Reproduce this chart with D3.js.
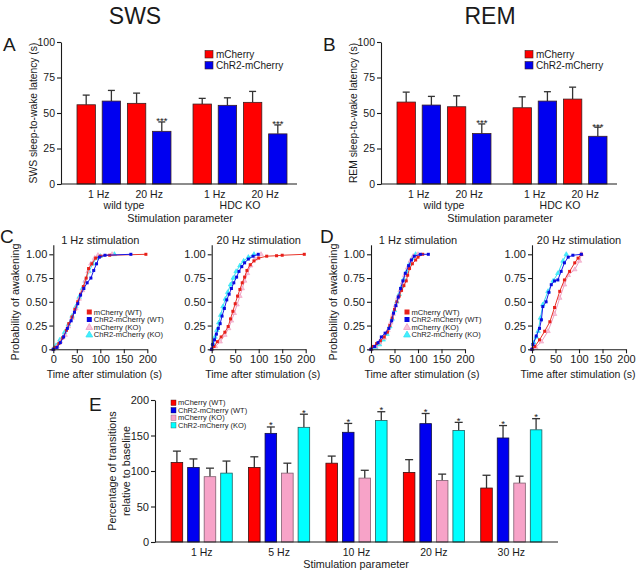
<!DOCTYPE html>
<html>
<head>
<meta charset="utf-8">
<script src="https://cdn.jsdelivr.net/npm/d3@7"></script>
<style>
body { margin: 0; background: #fff; }
svg text { font-family: "Liberation Sans", Arial, sans-serif; fill: #1a1a1a; }
</style>
</head>
<body>
<svg id="fig" width="640" height="570"></svg>
<script>
// ---- data : panels A / B (latency, s) ----
var latGroups = ["wild type", "HDC KO"];
var latFreqs = ["1 Hz", "20 Hz"];
// order: WT 1Hz, WT 20Hz, KO 1Hz, KO 20Hz
var swsCherry = [55.8, 56.8, 56.3, 57.5];
var swsCherrySem = [6.8, 7.2, 4.0, 7.7];
var swsChR2 = [58.4, 37.1, 55.4, 35.3];
var swsChR2Sem = [7.5, 6.6, 5.3, 6.3];
var swsStars = [false, true, false, true];
var remCherry = [57.7, 54.4, 53.7, 59.8];
var remCherrySem = [7.0, 7.7, 7.7, 8.4];
var remChR2 = [55.6, 35.5, 58.4, 33.6];
var remChR2Sem = [6.1, 6.8, 6.6, 6.4];
var latTicks = [0, 25, 50, 75, 100];

// ---- data : panels C / D (cumulative probability of awakening) ----
// [time after stimulation (s), probability]
var c1Red = [[0,0],[5,0.02],[12,0.06],[20,0.12],[28,0.2],[33,0.27],[40,0.34],[46,0.42],[52,0.5],[58,0.58],[64,0.66],[70,0.75],[75,0.85],[82,0.9],[90,0.96],[100,0.98],[120,0.99],[197,1]];
var c1Blue = [[0,0],[8,0.02],[15,0.07],[22,0.13],[30,0.22],[38,0.3],[45,0.39],[52,0.48],[58,0.57],[65,0.64],[72,0.7],[80,0.75],[86,0.83],[92,0.9],[98,0.97],[110,0.99],[165,1]];
var c1Pink = [[0,0],[8,0.03],[15,0.08],[25,0.15],[32,0.24],[40,0.33],[48,0.43],[55,0.53],[62,0.62],[68,0.72],[74,0.82],[80,0.9],[88,0.96],[95,0.99],[125,1]];
var c1Cyan = [[0,0],[6,0.04],[14,0.1],[24,0.18],[32,0.26],[40,0.35],[48,0.45],[55,0.55],[62,0.64],[68,0.72],[76,0.82],[84,0.9],[92,0.96],[100,0.98],[130,1]];

var c20Red = [[0,0],[5,0.03],[12,0.08],[20,0.13],[28,0.18],[35,0.24],[40,0.32],[45,0.4],[50,0.48],[55,0.56],[60,0.63],[65,0.7],[70,0.76],[75,0.83],[82,0.89],[90,0.93],[100,0.96],[117,0.98],[138,0.985],[150,0.99],[197,1]];
var c20Blue = [[0,0],[2,0.05],[6,0.1],[10,0.16],[14,0.22],[18,0.27],[22,0.35],[27,0.43],[32,0.52],[37,0.58],[42,0.64],[47,0.7],[53,0.76],[58,0.82],[64,0.87],[70,0.91],[78,0.95],[88,0.98],[99,1]];
var c20Pink = [[0,0],[8,0.03],[18,0.08],[28,0.15],[36,0.22],[42,0.3],[48,0.38],[54,0.47],[60,0.56],[65,0.64],[70,0.72],[76,0.8],[83,0.88],[92,0.95],[105,1]];
var c20Cyan = [[0,0],[3,0.06],[7,0.13],[11,0.2],[15,0.28],[19,0.36],[24,0.45],[29,0.53],[34,0.6],[40,0.68],[46,0.75],[52,0.82],[60,0.88],[68,0.93],[78,0.97],[90,1]];

var d1Red = [[0,0],[5,0.03],[12,0.06],[20,0.09],[28,0.13],[35,0.18],[40,0.25],[45,0.33],[50,0.42],[55,0.5],[60,0.56],[65,0.62],[70,0.67],[75,0.72],[78,0.78],[82,0.85],[88,0.9],[95,0.94],[100,0.97],[110,1]];
var d1Blue = [[0,0],[8,0.03],[15,0.07],[22,0.13],[30,0.17],[38,0.22],[44,0.3],[48,0.38],[53,0.46],[58,0.55],[63,0.64],[68,0.72],[73,0.8],[80,0.88],[86,0.94],[92,0.98],[105,1],[122,1]];
var d1Pink = [[0,0],[10,0.03],[18,0.07],[28,0.12],[36,0.2],[42,0.28],[47,0.37],[52,0.46],[57,0.54],[62,0.62],[67,0.7],[72,0.78],[78,0.86],[84,0.93],[90,0.98],[100,1]];
var d1Cyan = [[0,0],[10,0.02],[18,0.05],[26,0.1],[34,0.16],[40,0.24],[45,0.32],[50,0.41],[55,0.5],[60,0.58],[65,0.66],[70,0.74],[76,0.82],[82,0.9],[88,0.96],[95,1]];

var d20Red = [[0,0],[6,0.03],[16,0.1],[27,0.19],[38,0.29],[48,0.44],[59,0.61],[69,0.73],[80,0.82],[91,0.91],[98,0.96],[105,1]];
var d20Blue = [[0,0],[2,0.05],[9,0.14],[16,0.22],[20,0.31],[23,0.45],[30,0.5],[36,0.6],[41,0.68],[48,0.72],[55,0.73],[62,0.82],[69,0.91],[77,0.97],[87,0.99],[105,1]];
var d20Pink = [[0,0],[8,0.02],[20,0.08],[34,0.19],[48,0.37],[59,0.54],[69,0.68],[77,0.78],[91,0.84],[101,0.93],[105,1]];
var d20Cyan = [[0,0],[4,0.07],[9,0.13],[13,0.19],[18,0.33],[23,0.47],[34,0.61],[45,0.72],[55,0.8],[66,0.93],[73,1]];

var cdfTicksX = [0, 50, 100, 150, 200];
var cdfTicksY = [0, 0.25, 0.5, 0.75, 1];
var seriesNames = ["mCherry (WT)", "ChR2-mCherry (WT)", "mCherry (KO)", "ChR2-mCherry (KO)"];

// ---- data : panel E (% transitions relative to baseline) ----
var eFreqs = ["1 Hz", "5 Hz", "10 Hz", "20 Hz", "30 Hz"];
var eWtCherry = [112, 105, 111, 98, 76];
var eWtCherrySem = [16, 15, 10, 18, 18];
var eWtChR2 = [105, 153, 154.5, 166.7, 146.5];
var eWtChR2Sem = [12, 9, 12.5, 14.3, 17.5];
var eKoCherry = [92, 97, 90, 86.6, 83];
var eKoCherrySem = [12, 14, 11, 9, 9.7];
var eKoChR2 = [97, 161.5, 171, 157, 158];
var eKoChR2Sem = [17, 18.5, 12.5, 11.5, 15.7];
var eTicks = [0, 50, 100, 150, 200];

// ---- colours ----
var RED = "#ff0000", BLUE = "#0000f0", PINK = "#f7a3c8", CYAN = "#00ffff";
var INK = "#1a1a1a";

var svg = d3.select("#fig");

function styleAxis(sel, fs) {
  sel.attr("font-family", null).attr("font-size", fs || 10.5);
  sel.selectAll("path,line").attr("stroke", INK).attr("stroke-width", 1.1);
  sel.selectAll("text").attr("fill", INK);
}

function txt(g, x, y, s, fs, anchor) {
  return g.append("text").attr("x", x).attr("y", y).attr("font-size", fs)
    .attr("text-anchor", anchor || "middle").text(s);
}

// ===== titles =====
txt(svg, 135, 24, "SWS", 23);
txt(svg, 490, 24, "REM", 23);

// ===== A / B =====
function latencyPanel(x0, letter, ylab, cherry, cherrySem, chr2, chr2Sem, stars) {
  var g = svg.append("g").attr("transform", "translate(" + x0 + ",0)");
  txt(g, 3, 51, letter, 19, "start");
  var y = d3.scaleLinear().domain([0, 100]).range([184, 42]);
  var gx = d3.scaleBand().domain(latGroups).range([77, 287]).paddingInner(0.19);
  var keys = ["c1 Hz", "r1 Hz", "c20 Hz", "r20 Hz"];
  var bx = d3.scaleBand().domain(keys).range([0, gx.bandwidth()]).paddingInner(0.27);

  var rows = [];
  latGroups.forEach(function (grp, i) {
    latFreqs.forEach(function (f, j) {
      var k = i * 2 + j;
      rows.push({ grp: grp, key: "c" + f, v: cherry[k], e: cherrySem[k], col: RED, star: false });
      rows.push({ grp: grp, key: "r" + f, v: chr2[k], e: chr2Sem[k], col: BLUE, star: stars[k] });
    });
  });

  var bars = g.selectAll(".bar").data(rows).enter().append("g");
  bars.append("line")
    .attr("x1", function (d) { return gx(d.grp) + bx(d.key) + bx.bandwidth() / 2; })
    .attr("x2", function (d) { return gx(d.grp) + bx(d.key) + bx.bandwidth() / 2; })
    .attr("y1", function (d) { return y(d.v); })
    .attr("y2", function (d) { return y(d.v + d.e); })
    .attr("stroke", "#333").attr("stroke-width", 1.3);
  bars.append("line")
    .attr("x1", function (d) { return gx(d.grp) + bx(d.key) + bx.bandwidth() / 2 - 3.5; })
    .attr("x2", function (d) { return gx(d.grp) + bx(d.key) + bx.bandwidth() / 2 + 3.5; })
    .attr("y1", function (d) { return y(d.v + d.e); })
    .attr("y2", function (d) { return y(d.v + d.e); })
    .attr("stroke", "#333").attr("stroke-width", 1.3);
  bars.append("rect")
    .attr("x", function (d) { return gx(d.grp) + bx(d.key); })
    .attr("y", function (d) { return y(d.v); })
    .attr("width", bx.bandwidth())
    .attr("height", function (d) { return y(0) - y(d.v); })
    .attr("fill", function (d) { return d.col; })
    .attr("stroke", "#3a2020").attr("stroke-width", 0.8);
  bars.filter(function (d) { return d.star; }).append("text")
    .attr("x", function (d) { return gx(d.grp) + bx(d.key) + bx.bandwidth() / 2; })
    .attr("y", function (d) { return y(d.v + d.e) + 2.5; })
    .attr("font-size", 9.5).attr("text-anchor", "middle").text("***");

  g.append("g").attr("transform", "translate(61,0)")
    .call(d3.axisLeft(y).tickValues(latTicks).tickSize(4).tickSizeOuter(0).tickPadding(2))
    .call(styleAxis);
  g.append("line").attr("x1", 61).attr("x2", 297).attr("y1", y(0)).attr("y2", y(0))
    .attr("stroke", INK).attr("stroke-width", 1.1);

  latGroups.forEach(function (grp) {
    latFreqs.forEach(function (f) {
      var cx = gx(grp) + (bx("c" + f) + bx("r" + f) + bx.bandwidth()) / 2;
      txt(g, cx, 198, f, 10.5);
    });
    txt(g, gx(grp) + gx.bandwidth() / 2, 208.5, grp, 10.5);
  });
  txt(g, 180, 221.5, "Stimulation parameter", 10.8);
  txt(g, 0, 0, ylab, 10.3).attr("transform", "translate(37,113) rotate(-90)");

  // legend
  [["mCherry", RED], ["ChR2-mCherry", BLUE]].forEach(function (l, i) {
    g.append("rect").attr("x", 205).attr("y", 50.5 + i * 11).attr("width", 8).attr("height", 7.5)
      .attr("fill", l[1]).attr("stroke", "#3a2020").attr("stroke-width", 0.6);
    txt(g, 216, 57.6 + i * 11, l[0], 10, "start");
  });
}

latencyPanel(0, "A", "SWS sleep-to-wake latency (s)", swsCherry, swsCherrySem, swsChR2, swsChR2Sem, swsStars);
latencyPanel(320, "B", "REM sleep-to-wake latency (s)", remCherry, remCherrySem, remChR2, remChR2Sem, swsStars);

// ===== C / D =====
var seriesStyle = [
  { col: "#e8352b", fill: "#e8201a", shape: "sq" },
  { col: "#1818e8", fill: "#0a0ae0", shape: "sq" },
  { col: "#ee9cc0", fill: "#f8c2d8", shape: "tri" },
  { col: "#38e0f0", fill: "#40f0ff", shape: "tri" }
];

function cdfPanel(x0, title, curves, ylab, legend, xlabX) {
  var g = svg.append("g").attr("transform", "translate(" + x0 + ",0)");
  var x = d3.scaleLinear().domain([0, 200]).range([0, 94]);
  var y = d3.scaleLinear().domain([0, 1.1]).range([349.3, 244.8]);
  var line = d3.line().x(function (d) { return x(d[0]); }).y(function (d) { return y(d[1]); });
  var tri = d3.symbol().type(d3.symbolTriangle).size(9);
  var order = [3, 2, 0, 1];
  order.forEach(function (si) {
    var st = seriesStyle[si];
    g.append("path").datum(curves[si]).attr("d", line).attr("fill", "none")
      .attr("stroke", st.col).attr("stroke-width", 1);
    var pts = g.selectAll(null).data(curves[si]).enter();
    if (st.shape === "sq") {
      pts.append("rect").attr("x", function (d) { return x(d[0]) - 1.5; })
        .attr("y", function (d) { return y(d[1]) - 1.5; })
        .attr("width", 3).attr("height", 3).attr("fill", st.fill);
    } else {
      pts.append("path").attr("d", tri)
        .attr("transform", function (d) { return "translate(" + x(d[0]) + "," + y(d[1]) + ")"; })
        .attr("fill", st.fill).attr("stroke", st.col).attr("stroke-width", 0.6);
    }
  });

  g.append("g").attr("transform", "translate(0,349.3)")
    .call(d3.axisBottom(x).tickValues(cdfTicksX).tickSize(4).tickSizeOuter(0).tickPadding(2))
    .call(styleAxis, 11);
  g.append("g")
    .call(d3.axisLeft(y).tickValues(cdfTicksY).tickSize(4).tickSizeOuter(0).tickPadding(2)
      .tickFormat(function (d) { return d === 0 ? "0" : d3.format(".2f")(d); }))
    .call(styleAxis, 11);

  txt(g, 47, 244, title, 11);
  txt(g, xlabX, 378, "Time after stimulation (s)", 10.5);
  if (ylab) txt(g, 0, 0, ylab, 10.8).attr("transform", "translate(-34,302) rotate(-90)");

  if (legend) {
    seriesNames.forEach(function (n, i) {
      var ly = 312 + i * 7.5;
      if (seriesStyle[i].shape === "sq") {
        g.append("rect").attr("x", 33.5).attr("y", ly - 2.5).attr("width", 5).attr("height", 5)
          .attr("fill", seriesStyle[i].fill);
      } else {
        g.append("path").attr("d", d3.symbol().type(d3.symbolTriangle).size(20))
          .attr("transform", "translate(36," + (ly + 0.5) + ")")
          .attr("fill", seriesStyle[i].fill).attr("stroke", seriesStyle[i].col).attr("stroke-width", 0.8);
      }
      txt(g, 40.5, ly + 2.8, n, 7.6, "start");
    });
  }
}

cdfPanel(53.3, "1 Hz stimulation", [c1Red, c1Blue, c1Pink, c1Cyan], "Probability of awakening", true, 51);
cdfPanel(211.7, "20 Hz stimulation", [c20Red, c20Blue, c20Pink, c20Cyan], null, false, 51);
cdfPanel(371, "1 Hz stimulation", [d1Red, d1Blue, d1Pink, d1Cyan], "Probability of awakening", true, 51);
cdfPanel(532, "20 Hz stimulation", [d20Red, d20Blue, d20Pink, d20Cyan], null, false, 46);
txt(svg, 0, 243, "C", 19, "start");
txt(svg, 320, 243, "D", 19, "start");

// ===== E =====
(function () {
  var g = svg.append("g");
  txt(g, 89, 411, "E", 19, "start");
  var y = d3.scaleLinear().domain([0, 200]).range([542, 400]);
  var gx = d3.scaleBand().domain(eFreqs).range([163, 550]).paddingInner(0.21).paddingOuter(0.105);
  var bx = d3.scaleBand().domain([0, 1, 2, 3]).range([0, gx.bandwidth()]).paddingInner(0.3);
  var vals = [eWtCherry, eWtChR2, eKoCherry, eKoChR2];
  var sems = [eWtCherrySem, eWtChR2Sem, eKoCherrySem, eKoChR2Sem];
  var cols = [RED, BLUE, PINK, CYAN];
  var strokes = ["#3a1010", "#101040", "#806070", "#206060"];
  var rows = [];
  eFreqs.forEach(function (f, i) {
    for (var s = 0; s < 4; s++) {
      rows.push({ f: f, s: s, v: vals[s][i], e: sems[s][i], star: s % 2 === 1 && i > 0 });
    }
  });
  var cx = function (d) { return gx(d.f) + bx(d.s) + bx.bandwidth() / 2; };
  var b = g.selectAll(null).data(rows).enter().append("g");
  b.append("line").attr("x1", cx).attr("x2", cx)
    .attr("y1", function (d) { return y(d.v); }).attr("y2", function (d) { return y(d.v + d.e); })
    .attr("stroke", "#333").attr("stroke-width", 1.3);
  b.append("line").attr("x1", function (d) { return cx(d) - 4; }).attr("x2", function (d) { return cx(d) + 4; })
    .attr("y1", function (d) { return y(d.v + d.e); }).attr("y2", function (d) { return y(d.v + d.e); })
    .attr("stroke", "#333").attr("stroke-width", 1.3);
  b.append("rect").attr("x", function (d) { return gx(d.f) + bx(d.s); })
    .attr("y", function (d) { return y(d.v); })
    .attr("width", bx.bandwidth()).attr("height", function (d) { return y(0) - y(d.v); })
    .attr("fill", function (d) { return cols[d.s]; })
    .attr("stroke", function (d) { return strokes[d.s]; }).attr("stroke-width", 0.8);
  b.filter(function (d) { return d.star; }).append("text")
    .attr("x", cx).attr("y", function (d) { return y(d.v + d.e) + 1.5; })
    .attr("font-size", 9.5).attr("text-anchor", "middle").text("*");

  g.append("g").attr("transform", "translate(155,0)")
    .call(d3.axisLeft(y).tickValues(eTicks).tickSize(4).tickSizeOuter(0).tickPadding(2))
    .call(styleAxis, 11);
  g.append("line").attr("x1", 155).attr("x2", 558).attr("y1", y(0)).attr("y2", y(0))
    .attr("stroke", INK).attr("stroke-width", 1.1);
  eFreqs.forEach(function (f) { txt(g, gx(f) + gx.bandwidth() / 2, 556, f, 10.5); });
  txt(g, 356, 568, "Stimulation parameter", 10.8);
  txt(g, 0, 0, "Percentage of transitions", 10.8).attr("transform", "translate(116,471) rotate(-90)");
  txt(g, 0, 0, "relative to baseline", 10.8).attr("transform", "translate(130,471) rotate(-90)");

  seriesNames.forEach(function (n, i) {
    g.append("rect").attr("x", 171).attr("y", 400 + i * 7.5).attr("width", 5).attr("height", 5.5)
      .attr("fill", cols[i]).attr("stroke", strokes[i]).attr("stroke-width", 0.4);
    txt(g, 178, 405.3 + i * 7.5, n, 7.5, "start");
  });
})();
</script>
</body>
</html>
